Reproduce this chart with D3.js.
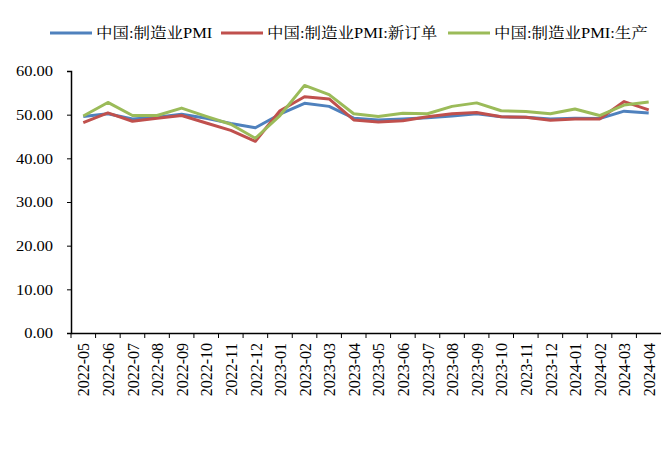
<!DOCTYPE html>
<html>
<head>
<meta charset="utf-8">
<script src="https://cdn.jsdelivr.net/npm/d3@7"></script>
<style>
  body { margin: 0; background: #fff; }
  svg { display: block; }
  svg text { font-family: "Liberation Serif", "Times New Roman", "Noto Serif CJK SC", "Noto Sans CJK SC", serif; }
</style>
</head>
<body>
<svg id="chart"></svg>
<script>
// data
const months = ['2022-05','2022-06','2022-07','2022-08','2022-09','2022-10','2022-11','2022-12',
  '2023-01','2023-02','2023-03','2023-04','2023-05','2023-06','2023-07','2023-08','2023-09',
  '2023-10','2023-11','2023-12','2024-01','2024-02','2024-03','2024-04'];
const pmi = [49.6,50.2,49.0,49.4,50.1,49.2,48.0,47.0,50.1,52.6,51.9,49.2,48.8,49.0,49.3,49.7,50.2,
  49.5,49.4,49.0,49.2,49.1,50.8,50.4];
const newOrders = [48.2,50.4,48.5,49.2,49.8,48.1,46.4,43.9,50.9,54.1,53.6,48.8,48.3,48.6,49.5,50.2,50.5,
  49.5,49.4,48.7,49.0,49.0,53.0,51.1];
const production = [49.7,52.8,49.8,49.8,51.5,49.6,47.8,44.6,49.8,56.7,54.6,50.2,49.6,50.3,50.2,51.9,52.7,
  50.9,50.7,50.2,51.3,49.8,52.2,52.9];
const seriesNames = ['中国:制造业PMI', '中国:制造业PMI:新订单', '中国:制造业PMI:生产'];
const yTicks = [0, 10, 20, 30, 40, 50, 60];

// drawing constants
const W = 661, H = 459;
const X0 = 71, X1 = 661, Y0 = 333, Y1 = 71;
const COLORS = ['#4F81BD', '#C0504D', '#9BBB59'];
const STRETCH = 1.1; // the source picture is a bit wider than tall

const svg = d3.select('#chart')
  .attr('width', W)
  .attr('height', H);

const x = d3.scaleBand().domain(months).range([X0, X1]);
const y = d3.scaleLinear().domain([0, 60]).range([Y0, Y1]);

// y axis
const yAxis = svg.append('g')
  .attr('transform', `translate(${X0},0)`)
  .call(d3.axisLeft(y).tickValues(yTicks).tickSize(4).tickFormat(d3.format('.2f')));
yAxis.attr('font-family', null).attr('font-size', null);
yAxis.selectAll('text')
  .attr('x', 0)
  .attr('font-size', 15)
  .attr('fill', '#000')
  .attr('transform', `translate(-18,0) scale(${STRETCH},1)`);

// x axis
const xAxis = svg.append('g')
  .attr('transform', `translate(0,${Y0})`)
  .call(d3.axisBottom(x).tickSize(0).tickPadding(0));
xAxis.attr('font-family', null).attr('font-size', null);
xAxis.selectAll('.tick line').remove();
xAxis.selectAll('text')
  .attr('y', 0)
  .attr('font-size', 16)
  .attr('fill', '#000')
  .attr('text-anchor', 'end')
  .attr('dy', '0.35em')
  .attr('transform', `translate(0,10) rotate(-90) scale(1,${STRETCH})`);
// tick marks on band edges
xAxis.selectAll('.edge')
  .data(months)
  .join('line')
  .attr('class', 'edge')
  .attr('x1', d => x(d))
  .attr('x2', d => x(d))
  .attr('y1', 0).attr('y2', 5)
  .attr('stroke', '#000');

svg.selectAll('.domain').attr('stroke', '#000').attr('stroke-width', 1.5);
svg.selectAll('.tick line').attr('stroke', '#000');

// lines
const line = d3.line()
  .x((d, i) => x(months[i]) + x.bandwidth() / 2)
  .y(d => y(d));

[pmi, newOrders, production].forEach((s, k) => {
  svg.append('path')
    .datum(s)
    .attr('fill', 'none')
    .attr('stroke', COLORS[k])
    .attr('stroke-width', 3)
    .attr('stroke-linejoin', 'round')
    .attr('d', line);
});

// legend
const legendX = [50, 221, 448];
seriesNames.forEach((name, k) => {
  const g = svg.append('g').attr('transform', `translate(${legendX[k]},33)`);
  g.append('line')
    .attr('x1', 0).attr('x2', 42)
    .attr('stroke', COLORS[k]).attr('stroke-width', 3);
  g.append('text')
    .attr('dy', '0.35em')
    .attr('font-size', 15)
    .attr('fill', '#000')
    .attr('transform', `translate(46,0) scale(${STRETCH},1)`)
    .text(name);
});
</script>
</body>
</html>
